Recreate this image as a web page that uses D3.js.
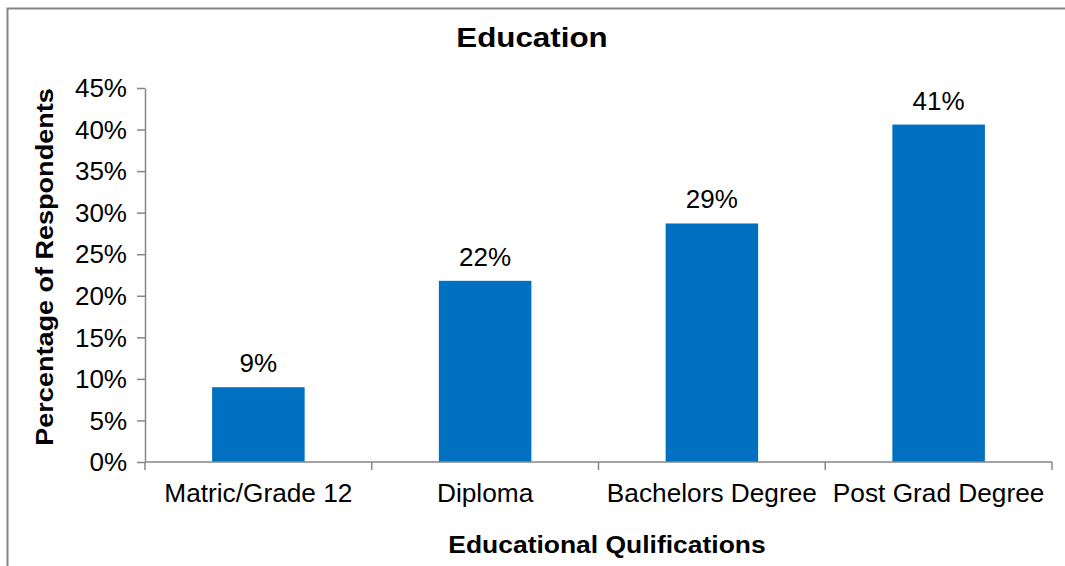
<!DOCTYPE html>
<html>
<head>
<meta charset="utf-8">
<script src="https://cdn.jsdelivr.net/npm/d3@7"></script>
<style>
  html, body { margin: 0; padding: 0; background: #fff; }
  svg { display: block; font-family: "Liberation Sans", Arial, sans-serif; }
</style>
</head>
<body>
<svg id="chart" width="1065" height="566"></svg>
<script>
// Share of respondents by highest educational qualification
const categories = ["Matric/Grade 12", "Diploma", "Bachelors Degree", "Post Grad Degree"];
const shares = [0.090, 0.218, 0.287, 0.406];
const yTicks = [0, 0.05, 0.10, 0.15, 0.20, 0.25, 0.30, 0.35, 0.40, 0.45];

const svg = d3.select("#chart");
const W = 1065, H = 566;
const plot = { left: 145, right: 1052, top: 88, bottom: 462 };
const axisColor = "#868686";
const barColor = "#0070C0";
const pct = d3.format(".0%");

// Widen glyphs slightly along the text direction
function widen(sel, k) {
  sel.each(function () {
    const len = this.getComputedTextLength();
    d3.select(this).attr("textLength", len * k).attr("lengthAdjust", "spacingAndGlyphs");
  });
}

// Chart frame
svg.append("rect")
  .attr("x", 7.5).attr("y", 8.5)
  .attr("width", W + 20).attr("height", H + 20)
  .attr("fill", "#fff")
  .attr("stroke", axisColor).attr("stroke-width", 2);

const x = d3.scaleBand()
  .domain(categories)
  .range([plot.left, plot.right])
  .paddingInner(0.592).paddingOuter(0.296);

const y = d3.scaleLinear()
  .domain([0, 0.45])
  .range([plot.bottom, plot.top]);

// Y axis
const yAxis = svg.append("g")
  .attr("transform", `translate(${plot.left},0)`)
  .call(d3.axisLeft(y).tickValues(yTicks).tickFormat(pct).tickSizeInner(8).tickSizeOuter(0).tickPadding(10));
yAxis.select(".domain").attr("stroke", axisColor).attr("stroke-width", 1.5);
yAxis.selectAll(".tick line").attr("stroke", axisColor).attr("stroke-width", 1.5);
yAxis.selectAll(".tick text")
  .attr("fill", "#000").attr("font-size", 25).attr("font-family", "Liberation Sans, Arial, sans-serif")
  .attr("dy", "0.35em")
  .call(widen, 1.04);

// Bars
svg.append("g").selectAll("rect")
  .data(categories)
  .join("rect")
  .attr("x", d => x(d))
  .attr("width", x.bandwidth())
  .attr("y", (d, i) => y(shares[i]))
  .attr("height", (d, i) => y(0) - y(shares[i]))
  .attr("fill", barColor);

// Value labels
svg.append("g").selectAll("text")
  .data(categories)
  .join("text")
  .attr("x", d => x(d) + x.bandwidth() / 2)
  .attr("y", (d, i) => y(shares[i]) - 15)
  .attr("text-anchor", "middle")
  .attr("font-size", 25)
  .attr("fill", "#000")
  .text((d, i) => pct(Math.round(shares[i] * 100) / 100))
  .call(widen, 1.04);

// X axis with category boundary ticks
const xAxisG = svg.append("g");
xAxisG.append("line")
  .attr("x1", plot.left).attr("x2", plot.right)
  .attr("y1", plot.bottom).attr("y2", plot.bottom)
  .attr("stroke", axisColor).attr("stroke-width", 1.5);
const boundaries = categories.map(d => x(d) - x.step() * x.paddingInner() / 2)
  .concat([plot.right]);
xAxisG.selectAll("line.bound")
  .data(boundaries)
  .join("line")
  .attr("class", "bound")
  .attr("x1", d => d).attr("x2", d => d)
  .attr("y1", plot.bottom).attr("y2", plot.bottom + 8)
  .attr("stroke", axisColor).attr("stroke-width", 1.5);
xAxisG.selectAll("text")
  .data(categories)
  .join("text")
  .attr("x", d => x(d) + x.bandwidth() / 2)
  .attr("y", 502)
  .attr("text-anchor", "middle")
  .attr("font-size", 25)
  .attr("fill", "#000")
  .text(d => d)
  .call(widen, 1.05);

// Titles
svg.append("text")
  .attr("x", 532).attr("y", 47)
  .attr("text-anchor", "middle")
  .attr("font-size", 27).attr("font-weight", "bold")
  .text("Education")
  .call(widen, 1.16);

svg.append("text")
  .attr("transform", "translate(53,267) rotate(-90)")
  .attr("text-anchor", "middle")
  .attr("font-size", 23.5).attr("font-weight", "bold")
  .text("Percentage of Respondents")
  .call(widen, 1.15);

svg.append("text")
  .attr("x", 607).attr("y", 553)
  .attr("text-anchor", "middle")
  .attr("font-size", 23).attr("font-weight", "bold")
  .text("Educational Qulifications")
  .call(widen, 1.15);
</script>
</body>
</html>
